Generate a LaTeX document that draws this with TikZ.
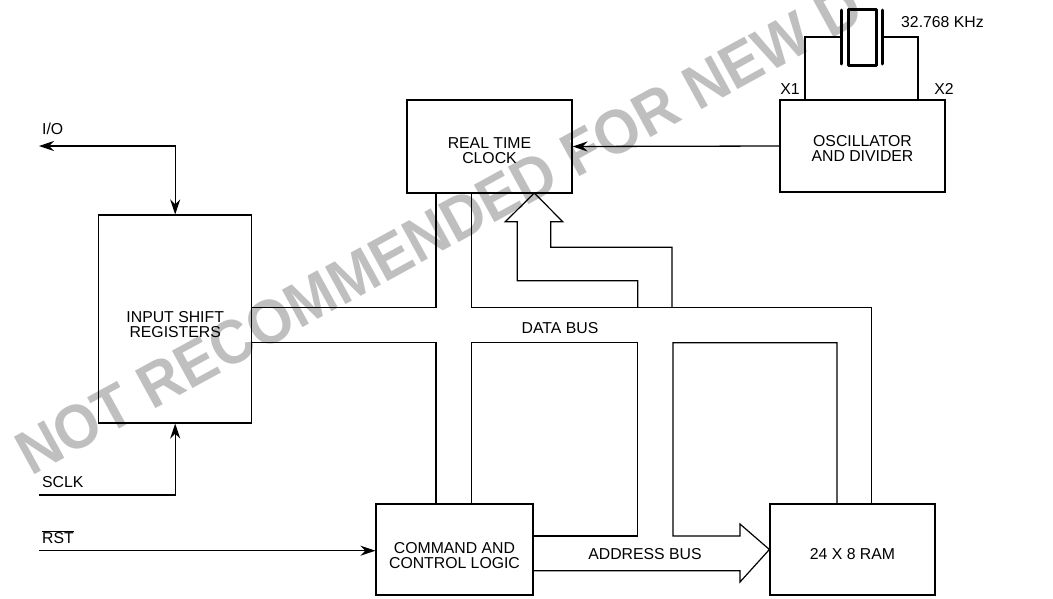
\documentclass[tikz,border=0pt]{standalone}
\usepackage{fontspec}
\setmainfont{Liberation Sans}
\usepackage{graphicx}
\usepackage{xcolor}
\usetikzlibrary{arrows.meta}
\definecolor{stampgray}{gray}{0.75}
\tikzset{
    blockbox/.style = {draw, line width = 1.2pt, align = center, font = \fontsize{15.8}{14.5}\selectfont},
    signal/.style = {font = \fontsize{15.8}{14.5}\selectfont, inner sep = 0pt},
    wire/.style = {line width = 1.2pt},
    sigarrow/.style = {line width = 1.3pt, -{Stealth[length = 15pt, width = 10pt]}},
    plate/.style = {line width = 3pt, line cap = round, line join = round},
}

\begin{document}
\begin{tikzpicture}[x = 1pt, y = -1pt]
        \useasboundingbox (0,0) rectangle (1053,598);
        % stamp across the page
        \begin{scope}
            \clip (0,0) rectangle (1053,598);
            \node[anchor = base west, rotate = 28.7, inner sep = 0pt, text = stampgray, font = \fontsize{58}{58}\selectfont\bfseries] (stamp) at (31,477) {\scalebox{1}[1.07]{NOT RECOMMENDED FOR NEW D}};
        \end{scope}

        % blocks, text sits a little under the middle
        \node[blockbox, minimum width = 165pt, minimum height = 93pt] (rtc) at (489.5,146.5) {\\[4.5pt]REAL TIME\\CLOCK};
        \node[blockbox, minimum width = 165pt, minimum height = 92pt] (osc) at (862.5,146) {\\[1.5pt]OSCILLATOR\\AND DIVIDER};
        \node[blockbox, minimum width = 153pt, minimum height = 208pt] (isr) at (175.2,319) {\\[7.5pt]INPUT SHIFT\\REGISTERS};
        \node[blockbox, minimum width = 157pt, minimum height = 91pt] (cmd) at (454.5,549.5) {\\[8.5pt]COMMAND AND\\CONTROL LOGIC};
        \node[blockbox, minimum width = 165pt, minimum height = 91pt] (ram) at (852.5,549.5) {\\[6.5pt]24 X 8 RAM};

        % labels
        \node[signal, anchor = west] (iolabel) at (42,129) {I/O};
        \node[signal, anchor = west] (sclklabel) at (42,482) {SCLK};
        \node[signal, anchor = west] (rstlabel) at (42,537) {$\overline{\mbox{RST}}$};
        \node[signal] (x1label) at (790,89) {X1};
        \node[signal] (x2label) at (944,89) {X2};
        \node[signal, anchor = west] (freqlabel) at (901,22) {32.768 KHz};
        \node[signal] (datalabel) at (560,328) {DATA BUS};
        \node[signal] (addrlabel) at (645,554) {ADDRESS BUS};

        % free ends of the signals
        \coordinate (ioend) at (39,146);
        \coordinate (sclkend) at (39,495);
        \coordinate (rstend) at (39,550.7);

        \draw[line width = 1.3pt, {Stealth[length = 15pt, width = 10pt]}-{Stealth[length = 15pt, width = 10pt]}] (ioend) -| (isr.north);
        \draw[sigarrow] (sclkend) -| (isr.south);
        \draw[sigarrow] (rstend) -- (cmd.west |- rstend);
        \draw[sigarrow] (osc.west) -- (rtc.east);

        % crystal
        \coordinate (plateat) at (841,10);
        \coordinate (platebt) at (841,64);
        \coordinate (platect) at (882,10);
        \coordinate (platedt) at (882,64);
        \coordinate (xlin) at (841,37);
        \coordinate (xrin) at (882,37);
        \draw[plate] (plateat) -- (platebt);
        \draw[plate] (platect) -- (platedt);
        \draw[plate] (848,9) rectangle (876,65);
        \draw[wire] (xlin) -| (805,100);
        \draw[wire] (xrin) -| (918,100);

        % data bus, left and top
        \draw[wire] (isr.east |- 0,307.7) -| (436,193);
        \draw[wire] (isr.east |- 0,342.7) -| (436,503.7);
        \draw[wire] (471.7,193) |- (871.7,307.7) -- (871.7,503.7);
        \draw[wire] (471.7,503.7) |- (637.7,342.7) -- (637.7,536) -- (cmd.east |- 0,536);

        % address bus
        \draw[wire] (cmd.east |- 0,570.7) -- (740,570.7) -- (740,582) -- (ram.west) -- (740,524) -- (740,536) -- (673,536) -- (673,342.7) -- (837,342.7) -- (837,503.7);

        % bus into the clock
        \draw[wire] (637.7,307.7) -- (637.7,280.7) -- (517.3,280.7) -- (517.3,221.7) -- (505.3,221.7) -- (534.3,193) -- (562.7,221.7) -- (550.7,221.7) -- (550.7,247.3) -- (672,247.3) -- (672,307.7);
    \end{tikzpicture}
\end{document}
